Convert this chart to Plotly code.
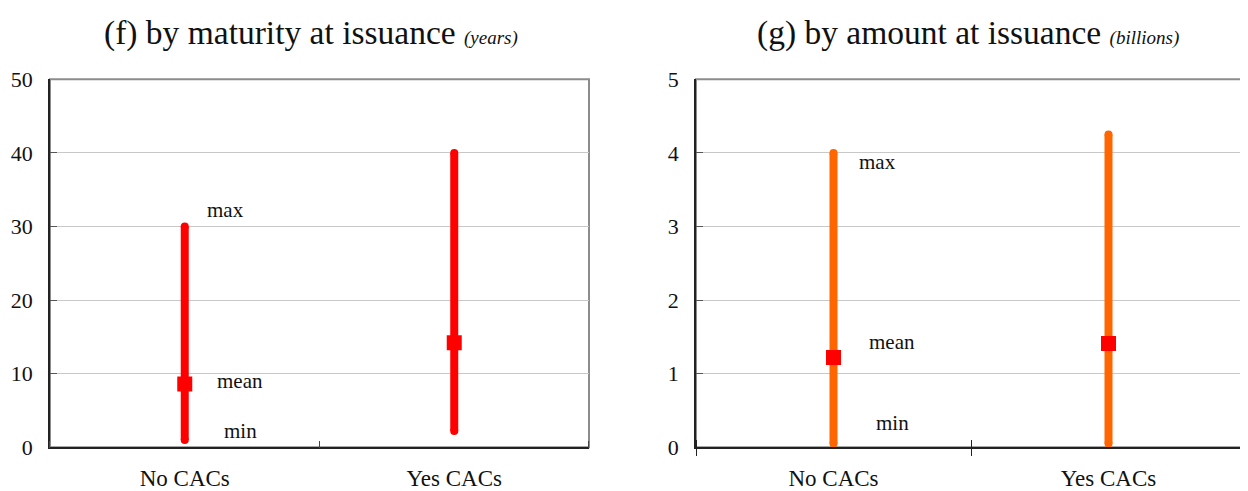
import plotly.graph_objects as go

categories = ["No CACs", "Yes CACs"]

# (f) maturity at issuance (years)
mat_min = [1.0, 2.2]
mat_max = [30.0, 40.0]
mat_mean = [8.6, 14.2]

# (g) amount at issuance (billions)
amt_min = [0.05, 0.05]
amt_max = [4.0, 4.25]
amt_mean = [1.22, 1.41]

y1_ticks = [0, 10, 20, 30, 40, 50]
y2_ticks = [0, 1, 2, 3, 4, 5]

titles = ["(f) by maturity at issuance", "(g) by amount at issuance"]
title_units = ["(years)", "(billions)"]
point_labels = ["max", "mean", "min"]

FONT = "Liberation Serif, Times New Roman, serif"
RED = "#FF0000"
ORANGE = "#FF6600"

fig = go.Figure()

xpos = [1, 2]

def add_panel(mins, maxs, means, color, xa, ya):
    for i, x in enumerate(xpos):
        fig.add_trace(go.Scatter(
            x=[x, x], y=[mins[i], maxs[i]], mode="lines+markers",
            line=dict(color=color, width=8),
            marker=dict(symbol="circle", size=8, color=color, line=dict(width=0)),
            xaxis=xa, yaxis=ya, showlegend=False, hoverinfo="skip"))
    fig.add_trace(go.Scatter(
        x=xpos, y=means, mode="markers",
        marker=dict(symbol="square", size=15, color=RED, line=dict(width=0)),
        xaxis=xa, yaxis=ya, showlegend=False, hoverinfo="skip"))

add_panel(mat_min, mat_max, mat_mean, RED, "x", "y")
add_panel(amt_min, amt_max, amt_mean, ORANGE, "x2", "y2")
# dummy trace so the overlay axis (for crossing ticks) is drawn
fig.add_trace(go.Scatter(x=[None], y=[None], xaxis="x3", yaxis="y2",
                         showlegend=False, hoverinfo="skip"))

# figure is placed at (8, 8) by the page's body margin
W, H = 1240, 483
ydom = [0.0905, 0.8524]
xdom1 = [0.03387, 0.46855]
xdom2 = [0.55484, 0.99839]

common_x = dict(
    range=[0.5, 2.5], tickvals=xpos, ticktext=categories, ticks="",
    showgrid=False, zeroline=False, showline=True, linecolor="#222222",
    linewidth=1.5, tickfont=dict(family=FONT, size=23, color="#111111"),
    ticklabelstandoff=9, fixedrange=True, automargin=False,
)
fig.update_layout(
    xaxis=dict(domain=xdom1, anchor="y", **common_x,
               minor=dict(tick0=0.5, dtick=1, ticks="inside", ticklen=7,
                          tickcolor="#444444", tickwidth=1, showgrid=False)),
    xaxis2=dict(domain=xdom2, anchor="y2", **common_x,
                minor=dict(tick0=0.5, dtick=1, ticks="outside", ticklen=7,
                           tickcolor="#222222", tickwidth=1, showgrid=False)),
    xaxis3=dict(domain=xdom2, anchor="y2", overlaying="x2", range=[0.5, 2.5],
                showticklabels=False, showgrid=False, zeroline=False,
                showline=False, tickvals=[], automargin=False,
                minor=dict(tick0=0.5, dtick=1, ticks="inside", ticklen=7,
                           tickcolor="#222222", tickwidth=1, showgrid=False)),
)

common_y = dict(
    domain=ydom, ticks="inside", ticklen=7, tickcolor="#555555",
    showgrid=True, gridcolor="#C8C8C8", gridwidth=1, zeroline=False,
    showline=True, linecolor="#222222", linewidth=1.5,
    tickfont=dict(family=FONT, size=22, color="#111111"),
    ticklabelstandoff=11, fixedrange=True, automargin=False,
)
fig.update_layout(
    yaxis=dict(anchor="x", range=[0, 50], tickvals=y1_ticks, **common_y),
    yaxis2=dict(anchor="x2", range=[0, 5], tickvals=y2_ticks, **common_y),
)

# grey frame (top/right borders)
for xr, yr in [("x domain", "y domain"), ("x2 domain", "y2 domain")]:
    fig.add_shape(type="rect", xref=xr, yref=yr, x0=0, x1=1, y0=0, y1=1,
                  line=dict(color="#8C8C8C", width=2), layer="below")

# titles
title_x = [0.2444, 0.7738]
for i in range(2):
    fig.add_annotation(
        xref="paper", yref="paper", x=title_x[i], y=0.948,
        text=f"{titles[i]} <i><span style='font-size:19px'>{title_units[i]}</span></i>",
        showarrow=False, xanchor="center", yanchor="middle",
        font=dict(family=FONT, size=33.5, color="#111111"))

# point labels (next to the first category)
label_pos = {
    "x": ([32.2, 9.0, 2.2], [20, 30, 37]),
    "x2": ([3.88, 1.43, 0.33], [23, 33, 40]),
}
for xa, ya in [("x", "y"), ("x2", "y2")]:
    ys, shifts = label_pos[xa]
    for lab, yv, sh in zip(point_labels, ys, shifts):
        fig.add_annotation(
            xref=xa, yref=ya, x=xpos[0], y=yv, text=lab, showarrow=False,
            xanchor="left", yanchor="middle", xshift=sh,
            font=dict(family=FONT, size=21, color="#111111"))

fig.update_layout(
    width=W, height=H, margin=dict(l=0, r=0, t=0, b=0),
    paper_bgcolor="white", plot_bgcolor="white",
)

fig.write_html("out.html")
